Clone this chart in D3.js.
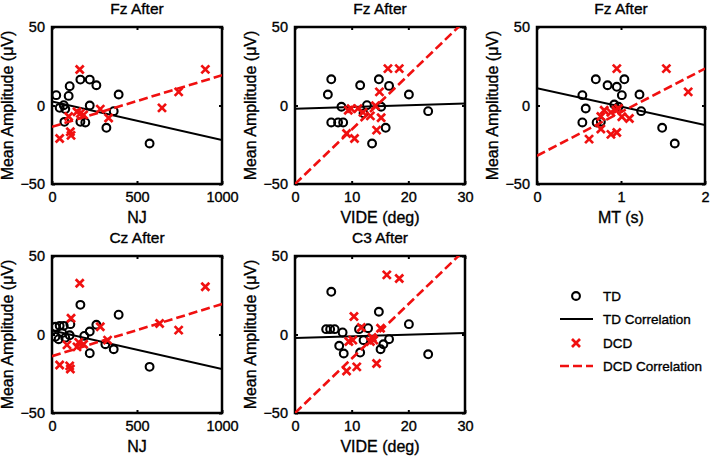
<!DOCTYPE html>
<html><head><meta charset="utf-8">
<script src="https://cdn.jsdelivr.net/npm/d3@7/dist/d3.min.js"></script>
<style>body{margin:0;background:#fff}svg{display:block}text{font-family:"Liberation Sans",Arial,sans-serif;fill:#000;stroke:#000;stroke-width:0.35px}</style>
</head><body>
<script>
// ---- data ----
const titles = ["Fz After", "Fz After", "Fz After", "Cz After", "C3 After"];
const xLabels = ["NJ", "VIDE (deg)", "MT (s)", "NJ", "VIDE (deg)"];
const yLabel = "Mean Amplitude (\u03bcV)";
const xDomains = [[0, 1000], [0, 30], [0, 2], [0, 1000], [0, 30]];
const xTicks = [[0, 500, 1000], [0, 10, 20, 30], [0, 1, 2], [0, 500, 1000], [0, 10, 20, 30]];
const yTicks = [-50, 0, 50];

// TD points [x, y]
const tdFzNJ = [[25,6.6],[104,12.3],[98,6.1],[45,-1.5],[69,0.2],[78,-2.3],[73,-10.4],[167,16.5],[222,16.5],[261,12.9],[222,0],[167,-10.4],[196,-10.8],[320,-14.2],[392,7],[363,-3.6],[574,-24.2]];
const tdFzVIDE = [[6.4,16.7],[5.8,7],[11.5,12.9],[14.8,16.7],[16.6,12.5],[20.1,7],[23.5,-3.6],[8.2,-0.8],[6.4,-10.8],[7.6,-10.8],[8.5,-10.8],[12.7,0.2],[15.2,-0.8],[16,-14.2],[13.6,-24.2],[12.1,-5]];
const tdFzMT = [[0.54,6.6],[0.58,-1.9],[0.54,-10.8],[0.70,16.7],[0.84,12.9],[0.95,11.9],[1.04,16.7],[1.01,6.6],[0.92,0.6],[0.71,-10.8],[0.76,-10.4],[1.22,7],[1.24,-3.6],[1.49,-14.2],[1.64,-24.2],[0.97,-0.8]];
const tdCzNJ = [[20,4.9],[45,5.5],[69,5.5],[108,6.6],[39,-3],[78,-2],[104,-0.5],[20,-1.5],[60,1],[167,18.9],[392,12.6],[261,6.2],[222,1.9],[190,-0.9],[222,-11.9],[314,-6.2],[363,-9.4],[574,-20.6]];
const tdC3VIDE = [[6.4,27.2],[5.5,3.4],[6.2,3.4],[7.0,3.4],[8.4,1.3],[7.8,-7.2],[8.6,-12.1],[11.3,3.4],[12.9,4],[14.8,14.5],[20.1,6.6],[23.5,-12.6],[12.1,-3.6],[11.5,-11.5],[15.1,-9.4],[15.6,-6.2],[16.6,-3]];

// DCD points [x, y]
const dcdFzNJ = [[163,22.9],[45,-21],[108,-16.7],[112,-19],[98,-7],[147,-4],[167,-5],[186,-6],[284,-2.3],[333,-8],[647,-1.5],[745,8.7],[902,23]];
const dcdFzVIDE = [[16.4,23.5],[18.4,23.5],[14.9,8.7],[9.4,-3],[9.9,-2],[11.1,-2],[12,-4.4],[13.3,-6.6],[14.2,-0.2],[15.2,-7.8],[14.4,-15.7],[9.1,-17.8],[10.5,-21]];
const dcdFzMT = [[0.95,23.5],[1.54,23.5],[1.80,8.7],[0.80,-3],[0.88,-4.4],[0.94,-3],[0.97,-1.9],[1.01,-7.2],[1.10,-8.3],[0.76,-15],[0.88,-18.4],[0.95,-17.2],[0.62,-21.4],[0.76,-7]];
const dcdCzNJ = [[163,32.6],[902,30.4],[112,10.4],[284,4.9],[633,7],[745,2.8],[327,-3.6],[88,-6.6],[157,-5],[186,-6.2],[45,-19.4],[104,-20],[108,-22],[147,-7.9]];
const dcdC3VIDE = [[16.2,38],[18.4,35.7],[10.4,11.5],[11.7,4.5],[15.1,4],[9.5,-4.5],[10.2,-3.6],[13.3,-4.5],[13.9,-3.6],[14.4,-18.5],[9.1,-23.2],[10.9,-20.6],[13.6,-1.9]];

// Correlation lines: y at x-domain start and end
const tdFits = [[2.5,-22],[-2,1.3],[11,-12.5],[2.5,-22],[-2.3,1]];
const dcdFits = [[-13.6,19.3],[-50,54],[-32,23.5],[-13.8,19.4],[-50,54]];

const legendLabels = ["TD", "TD Correlation", "DCD", "DCD Correlation"];

const tdSets = [tdFzNJ, tdFzVIDE, tdFzMT, tdCzNJ, tdC3VIDE];
const dcdSets = [dcdFzNJ, dcdFzVIDE, dcdFzMT, dcdCzNJ, dcdC3VIDE];

// ---- layout ----
const W = 712, H = 462;
const boxes = [
  {x0:52, x1:222, y0:27, y1:184},
  {x0:295, x1:465, y0:27, y1:184},
  {x0:537, x1:705, y0:27, y1:184},
  {x0:52, x1:222, y0:256, y1:413},
  {x0:295, x1:465, y0:256, y1:413}
];
const RED = "#f01010";

const svg = d3.select("body").append("svg").attr("width", W).attr("height", H);
const defs = svg.append("defs");

function cross(cx, cy, s) {
  return `M${cx-s},${cy-s}L${cx+s},${cy+s}M${cx-s},${cy+s}L${cx+s},${cy-s}`;
}

boxes.forEach((b, i) => {
  const x = d3.scaleLinear().domain(xDomains[i]).range([b.x0, b.x1]);
  const y = d3.scaleLinear().domain([-50, 50]).range([b.y1, b.y0]);
  const g = svg.append("g");
  defs.append("clipPath").attr("id", "clip" + i).append("rect")
    .attr("x", b.x0).attr("y", b.y0).attr("width", b.x1 - b.x0).attr("height", b.y1 - b.y0);

  const fmt = d3.format("d");
  const axB = g.append("g").attr("transform", `translate(0,${b.y1})`)
    .call(d3.axisBottom(x).tickValues(xTicks[i]).tickSize(-3).tickPadding(8).tickFormat(fmt));
  const axT = g.append("g").attr("transform", `translate(0,${b.y0})`)
    .call(d3.axisTop(x).tickValues(xTicks[i]).tickSize(-3).tickFormat(""));
  const axL = g.append("g").attr("transform", `translate(${b.x0},0)`)
    .call(d3.axisLeft(y).tickValues(yTicks).tickSize(-3).tickPadding(7).tickFormat(fmt));
  const axR = g.append("g").attr("transform", `translate(${b.x1},0)`)
    .call(d3.axisRight(y).tickValues(yTicks).tickSize(-3).tickFormat(""));
  [axB, axT, axL, axR].forEach(a => {
    a.select(".domain").remove();
    a.selectAll(".tick line").attr("stroke", "#000").attr("stroke-width", 2);
    a.selectAll(".tick text").attr("font-size", 14.5).attr("font-family", "Liberation Sans");
  });
  g.append("rect").attr("x", b.x0).attr("y", b.y0).attr("width", b.x1 - b.x0).attr("height", b.y1 - b.y0)
    .attr("fill", "none").attr("stroke", "#000").attr("stroke-width", 2.5);

  const plot = g.append("g").attr("clip-path", `url(#clip${i})`);
  const line = d3.line().x(d => x(d[0])).y(d => y(d[1]));
  const xd = xDomains[i];
  plot.selectAll("circle.td").data(tdSets[i]).join("circle")
    .attr("cx", d => x(d[0])).attr("cy", d => y(d[1])).attr("r", 3.9)
    .attr("fill", "none").attr("stroke", "#000").attr("stroke-width", 2.1);
  plot.append("path").attr("d", line([[xd[0], tdFits[i][0]], [xd[1], tdFits[i][1]]]))
    .attr("stroke", "#000").attr("stroke-width", 2).attr("fill", "none");
  plot.selectAll("path.dcd").data(dcdSets[i]).join("path")
    .attr("d", d => cross(x(d[0]), y(d[1]), 4))
    .attr("stroke", RED).attr("stroke-width", 2.7).attr("fill", "none");
  plot.append("path").attr("d", line([[xd[0], dcdFits[i][0]], [xd[1], dcdFits[i][1]]]))
    .attr("stroke", RED).attr("stroke-width", 2.6).attr("stroke-dasharray", "9,4").attr("fill", "none");

  g.append("text").attr("x", (b.x0 + b.x1) / 2).attr("y", b.y0 - 13).attr("text-anchor", "middle")
    .attr("font-size", 15.5).text(titles[i]);
  g.append("text").attr("x", (b.x0 + b.x1) / 2).attr("y", b.y1 + 39).attr("text-anchor", "middle")
    .attr("font-size", 16).text(xLabels[i]);
  g.append("text").attr("transform", `translate(${b.x0 - 39},${(b.y0 + b.y1) / 2}) rotate(-90)`)
    .attr("text-anchor", "middle").attr("font-size", 16).text(yLabel);
});

// legend
const lg = svg.append("g");
const ly = [296, 319, 343, 366];
lg.append("circle").attr("cx", 576).attr("cy", ly[0]).attr("r", 3.9).attr("fill", "none").attr("stroke", "#000").attr("stroke-width", 2.1);
lg.append("line").attr("x1", 560).attr("x2", 593).attr("y1", ly[1]).attr("y2", ly[1]).attr("stroke", "#000").attr("stroke-width", 2);
lg.append("path").attr("d", cross(576, ly[2], 4)).attr("stroke", RED).attr("stroke-width", 2.7);
lg.append("line").attr("x1", 560).attr("x2", 593).attr("y1", ly[3]).attr("y2", ly[3]).attr("stroke", RED).attr("stroke-width", 2.6).attr("stroke-dasharray", "9,4");
legendLabels.forEach((t, k) => {
  lg.append("text").attr("x", 603).attr("y", ly[k] + 5).attr("font-size", 13.5).text(t);
});
</script>
</body></html>
